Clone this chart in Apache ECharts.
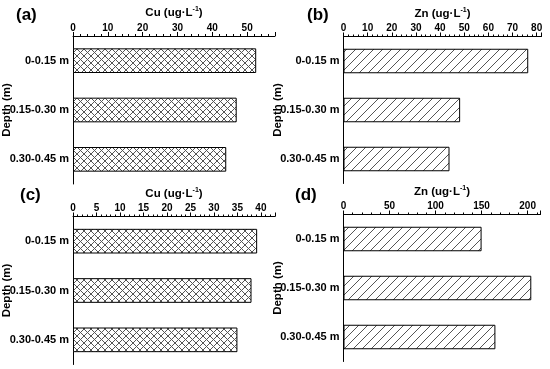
<!DOCTYPE html>
<html>
<head>
<meta charset="utf-8">
<script src="https://cdn.jsdelivr.net/npm/echarts@6/dist/echarts.min.js"></script>
<style>
html,body{margin:0;padding:0;background:#fff;}
#chart{width:550px;height:369px;}
</style>
</head>
<body>
<div id="chart"></div>
<script>
// ---- data ----
const categories = ['0-0.15 m', '0.15-0.30 m', '0.30-0.45 m'];
const cuA = [52.6, 47.0, 44.0];
const znB = [76.5, 48.3, 43.9];
const cuC = [39.2, 38.0, 35.0];
const znD = [150, 204, 165];
const panelLabels = ['(a)', '(b)', '(c)', '(d)'];

const FONT = '"Liberation Sans", Arial, sans-serif';

function hatch(type) {
  const s = type === 'cross' ? 7 : 9;
  const c = document.createElement('canvas');
  c.width = s; c.height = s;
  const g = c.getContext('2d');
  g.fillStyle = '#fff';
  g.fillRect(0, 0, s, s);
  g.strokeStyle = '#555';
  g.lineWidth = 1;
  g.beginPath();
  for (const k of [-s, 0, s]) {
    g.moveTo(k, s); g.lineTo(k + s, 0);
    if (type === 'cross') { g.moveTo(k, 0); g.lineTo(k + s, s); }
  }
  g.stroke();
  return { image: c, repeat: 'repeat' };
}

const crossPat = hatch('cross');
const linePat = hatch('line');

const grids = [
  { left: 73, top: 36, width: 202, height: 148 },
  { left: 343.5, top: 36.5, width: 198, height: 147 },
  { left: 73, top: 216.5, width: 202, height: 148 },
  { left: 343.5, top: 214.5, width: 197, height: 147 }
];

function axisName(el) {
  return '{t|' + el + ' (ug·L}{s|-1}{t|)}';
}

function xAxis(idx, max, interval, el) {
  return {
    type: 'value', gridIndex: idx, position: 'top', min: 0, max: max, interval: interval,
    name: axisName(el), nameLocation: 'middle', nameGap: 16, nameMoveOverlap: false,
    nameTextStyle: {
      rich: {
        t: { fontSize: 11.5, fontWeight: 'bold', fontFamily: FONT, color: '#000', lineHeight: 14 },
        s: { fontSize: 7, fontWeight: 'bold', fontFamily: FONT, color: '#000', verticalAlign: 'top', lineHeight: 14 }
      }
    },
    axisLine: { show: true, lineStyle: { color: '#000', width: 1 } },
    axisTick: { show: true, inside: false, length: 4, lineStyle: { color: '#000', width: 1 } },
    minorTick: { show: true, splitNumber: 5, length: 2, lineStyle: { color: '#000', width: 1 } },
    axisLabel: { fontSize: 10, fontWeight: 'bold', fontFamily: FONT, color: '#000', margin: 3, showMaxLabel: false },
    splitLine: { show: false }
  };
}

function yAxis(idx) {
  return {
    type: 'category', gridIndex: idx, data: categories, inverse: true,
    name: 'Depth (m)', nameLocation: 'middle', nameGap: 60, nameRotate: 90, nameMoveOverlap: false,
    nameTextStyle: { fontSize: 11.5, fontWeight: 'bold', fontFamily: FONT, color: '#000' },
    axisLine: { show: true, lineStyle: { color: '#000', width: 1 } },
    axisTick: { show: false },
    axisLabel: { fontSize: 11, fontWeight: 'bold', fontFamily: FONT, color: '#000', margin: 4 },
    splitLine: { show: false }
  };
}

function barSeries(idx, data, pat) {
  return {
    type: 'bar', xAxisIndex: idx, yAxisIndex: idx, data: data,
    barCategoryGap: '50%',
    itemStyle: { color: pat, borderColor: '#000', borderWidth: 1 },
    silent: true, animation: false
  };
}

const labelPos = [[16, 7], [307, 7], [20, 187], [295, 187]];

const option = {
  backgroundColor: '#fff',
  animation: false,
  grid: grids.map(g => Object.assign({ outerBoundsMode: 'none', containLabel: false }, g)),
  xAxis: [
    xAxis(0, 58, 10, 'Cu'),
    xAxis(1, 82, 10, 'Zn'),
    xAxis(2, 43, 5, 'Cu'),
    xAxis(3, 214, 50, 'Zn')
  ],
  yAxis: [yAxis(0), yAxis(1), yAxis(2), yAxis(3)],
  series: [
    barSeries(0, cuA, crossPat),
    barSeries(1, znB, linePat),
    barSeries(2, cuC, crossPat),
    barSeries(3, znD, linePat)
  ],
  graphic: panelLabels.map((t, i) => ({
    type: 'text', x: labelPos[i][0], y: labelPos[i][1],
    style: { text: t, fontSize: 17, fontWeight: 'bold', fontFamily: FONT, fill: '#000', textVerticalAlign: 'top' }
  }))
};

const chart = echarts.init(document.getElementById('chart'), null, { renderer: 'canvas' });
chart.setOption(option);
</script>
</body>
</html>
